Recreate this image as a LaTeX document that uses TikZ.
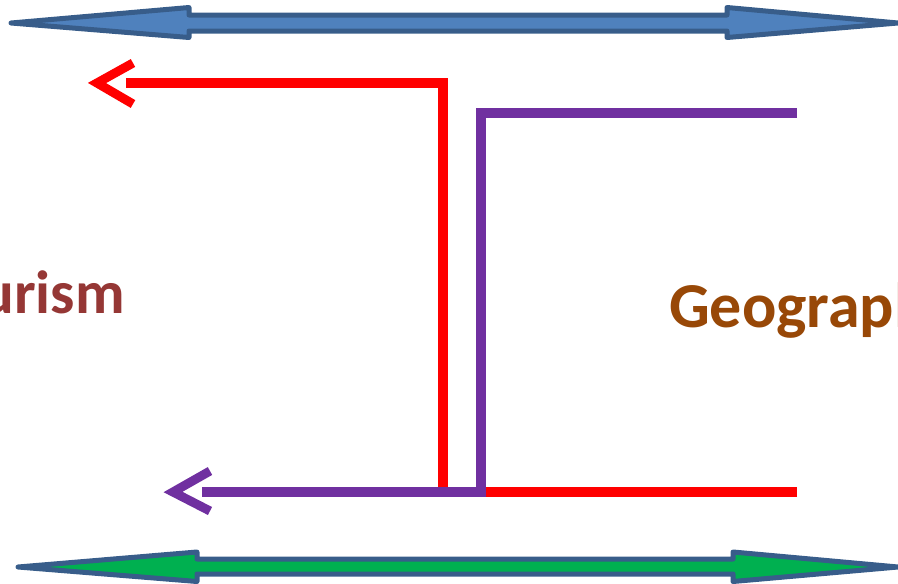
\documentclass[tikz,border=0pt]{standalone}
\usepackage{fontspec}
\setmainfont{Carlito}
\begin{document}
\begin{tikzpicture}[x=1pt,y=-1pt,
  bigarrow/.style={draw=arrowedge,line width=5pt,line join=round},
  route/.style={line width=9.5pt,line join=miter,line cap=butt},
  chevron/.style={line width=9pt,line join=miter,line cap=butt},
  label/.style={font=\bfseries,inner sep=0pt}]
\definecolor{arrowedge}{HTML}{385D8A}
\definecolor{bluefill}{HTML}{4F81BD}
\definecolor{greenfill}{HTML}{00B050}
\definecolor{routered}{HTML}{FF0000}
\definecolor{routepurple}{HTML}{7030A0}
\definecolor{tourismcol}{HTML}{953735}
\definecolor{geocol}{HTML}{984807}
\useasboundingbox (0,0) rectangle (898,584);

% double-headed arrows along the top and bottom
\draw[bigarrow,fill=bluefill] (11,23) -- (189,7.5) -- (189,15) -- (727,15) -- (727,7.5)
  -- (898,23) -- (727,37.5) -- (727,31) -- (189,31) -- (189,37.5) -- cycle;
\draw[bigarrow,fill=greenfill] (18,567) -- (197,552) -- (197,559) -- (733,559) -- (733,552)
  -- (898,567) -- (733,581.5) -- (733,574) -- (197,574) -- (197,581.5) -- cycle;

% labels
\node[label,text=tourismcol,anchor=base east,font=\bfseries\fontsize{61}{72}\selectfont]
  (tourism) at (125,313) {Tourism};
\node[label,text=geocol,anchor=base west,font=\bfseries\fontsize{64}{76}\selectfont]
  (geo) at (669,327) {Geography};

% route points
\coordinate (rEnd) at (797,492);
\coordinate (rCorner) at (443,492);
\coordinate (rTop) at (443,83);
\coordinate (rStart) at (126,83);
\coordinate (pEnd) at (797,113);
\coordinate (pCorner) at (481,113);
\coordinate (pLow) at (481,492);
\coordinate (pStart) at (202,492);

% red route with open head
\draw[route,routered] (rEnd) -- (rCorner) -- (rTop) -- (rStart);
\draw[chevron,routered] (133,63) -- (97,83) -- (133,104);
% purple route with open head
\draw[route,routepurple] (pEnd) -- (pCorner) -- (pLow) -- (pStart);
\draw[chevron,routepurple] (210,471) -- (173,492) -- (210,511);
\end{tikzpicture}
\end{document}
